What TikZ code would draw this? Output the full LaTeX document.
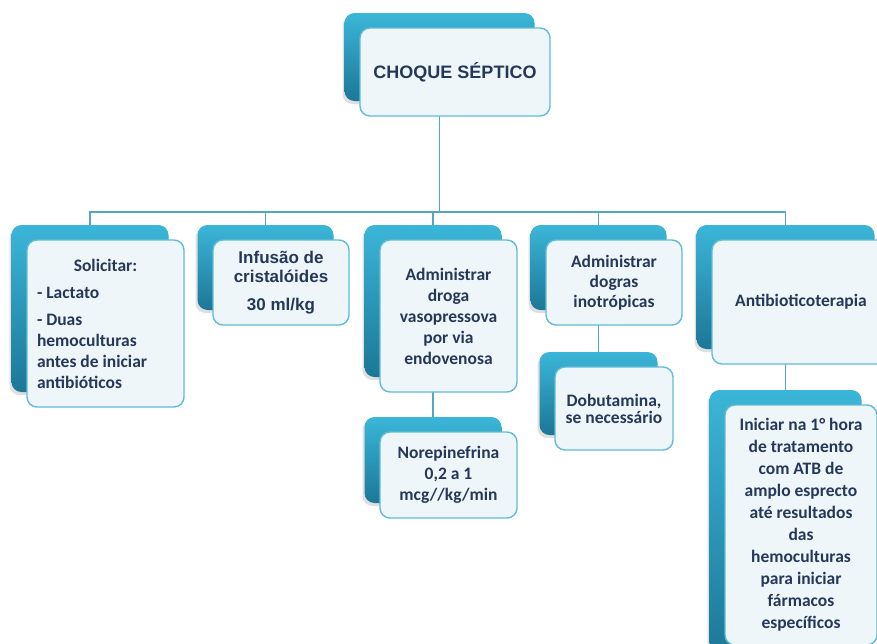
\documentclass[tikz,border=0pt]{standalone}
\usepackage{fontspec}
\setmainfont{Carlito}
\newfontfamily\arialf{Liberation Sans}
\usetikzlibrary{shadows,calc}
\definecolor{txt}{HTML}{26375A}
\definecolor{backtop}{HTML}{3BB6D8}
\definecolor{backbot}{HTML}{1C7797}
\definecolor{frontfill}{HTML}{EEF6FA}
\definecolor{frontline}{HTML}{62BCD5}
\definecolor{connc}{HTML}{52A8C2}
\pgfdeclarelayer{bg}
\pgfsetlayers{bg,main}
\tikzset{
  backbox/.style={rectangle, rounded corners=10pt, top color=backtop, bottom color=backbot, draw=none,
    drop shadow={shadow xshift=-2pt, shadow yshift=-3pt, opacity=0.25}},
  frontbox/.style={rectangle, rounded corners=10pt, fill=frontfill, draw=frontline, line width=1.4pt,
    text=txt, align=center, inner sep=4pt, font=\fontsize{17.5}{21}\selectfont\bfseries},
  arialtxt/.style={font=\fontsize{17}{19}\selectfont\bfseries\arialf},
  conn/.style={draw=connc, line width=1.7pt}
}
% #1 options, #2 name, #3 x1, #4 y1, #5 x2, #6 y2, #7 text
\newcommand\twobox[7][]{%
  \pgfmathsetmacro\bxw{#5-#3}%
  \pgfmathsetmacro\bxh{#6-#4}%
  \node[backbox, minimum width=\bxw pt, minimum height=\bxh pt] (#2b) at ({(#3+#5)/2-15.5},{(#4+#6)/2-15}) {};
  \node[frontbox, minimum width=\bxw pt, minimum height=\bxh pt, #1] (#2) at ({(#3+#5)/2},{(#4+#6)/2}) {#7};
}
\begin{document}
\begin{tikzpicture}[x=1pt,y=-1pt]
\useasboundingbox (0,0) rectangle (877,643);
\clip (0,0) rectangle (877,643);
\coordinate (bus) at (0,212);

\twobox[font=\fontsize{18}{21}\selectfont\bfseries\arialf]{top}{360}{28}{550}{116}{CHOQUE SÉPTICO}
\twobox{sol}{27}{240}{184}{407}{\parbox{137pt}{\centering Solicitar:\par\raggedright\vspace{6pt}- Lactato\par\vspace{6pt}- Duas\\hemoculturas\\antes de iniciar\\antibióticos\par}}
\twobox[arialtxt]{inf}{213}{240}{349}{325}{Infusão de\\cristalóides\\[9pt]30 ml/kg}
\twobox{vaso}{380}{240}{517}{392}{Administrar\\droga\\vasopressova\\por via\\endovenosa}
\twobox{nore}{380}{432}{517}{518}{Norepinefrina\\0,2 a 1\\mcg//kg/min}
\twobox[font=\fontsize{17.5}{20}\selectfont\bfseries]{ino}{546}{240}{682}{325}{Administrar\\dogras\\inotrópicas}
\twobox[font=\fontsize{17.5}{17}\selectfont\bfseries]{dobu}{555}{367}{673}{450}{Dobutamina,\\se necessário}
\twobox{atb}{712}{240}{890}{364}{Antibioticoterapia}

% last box: back box extends beyond the bottom edge
\node[backbox, minimum width=152pt, minimum height=270pt] (inib) at (785.5,525) {};
\node[frontbox, minimum width=152pt, minimum height=240pt, font=\fontsize{17.5}{22}\selectfont\bfseries] (ini) at (801,525)
  {Iniciar na 1° hora\\de tratamento\\com ATB de\\amplo esprecto\\até resultados\\das\\hemoculturas\\para iniciar\\fármacos\\específicos};

\begin{pgfonlayer}{bg}
  \fill[white] (0,0) rectangle (877,643);
  \draw[conn] (topb.south) -- (topb.south |- bus);
  \draw[conn] (solb.north) |- (bus -| atbb.north) -- (atbb.north);
  \draw[conn] (infb.north) -- (infb.north |- bus);
  \draw[conn] (vasob.north) -- (vasob.north |- bus);
  \draw[conn] (inob.north) -- (inob.north |- bus);
  \draw[conn] (vasob.south) -- (noreb.north);
  \draw[conn] (inob.south) -- (dobub.north);
  \draw[conn] (atbb.south) -- (atbb.south |- inib.north);
\end{pgfonlayer}
\end{tikzpicture}
\end{document}
